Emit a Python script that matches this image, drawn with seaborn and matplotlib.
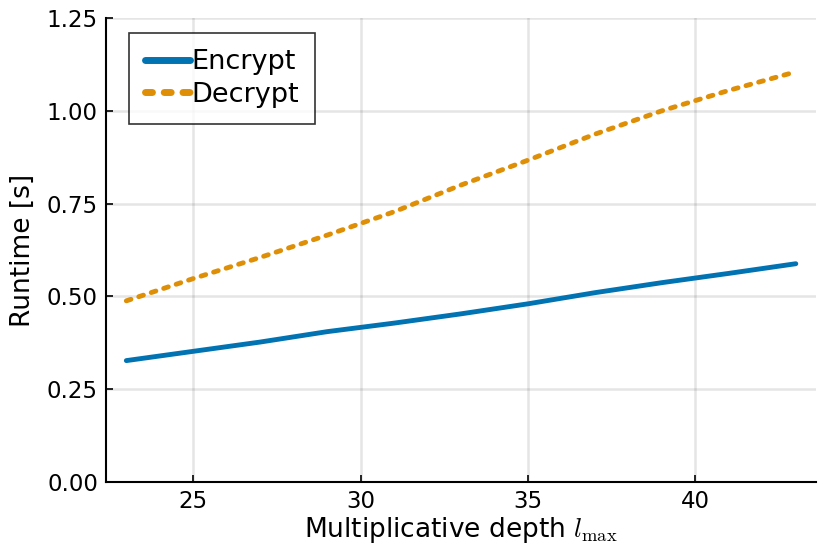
import numpy as np
import pandas as pd
import matplotlib
matplotlib.use("Agg")
import matplotlib.pyplot as plt
import seaborn as sns

# values
depth = [23, 25, 27, 29, 31, 33, 35, 37, 39, 41, 43]
encrypt = [0.327, 0.352, 0.377, 0.405, 0.428, 0.453, 0.480, 0.510, 0.537, 0.562, 0.588]
decrypt = [0.488, 0.548, 0.605, 0.665, 0.728, 0.800, 0.867, 0.937, 1.000, 1.055, 1.105]
series = ["Encrypt", "Decrypt"]
yticks = [0.0, 0.25, 0.5, 0.75, 1.0, 1.25]
xticks = [25, 30, 35, 40]

df = pd.DataFrame({
    "depth": depth * 2,
    "runtime": encrypt + decrypt,
    "op": [series[0]] * len(depth) + [series[1]] * len(depth),
})

sns.set_style("ticks")
plt.rcParams["font.family"] = ["DejaVu Sans"]
plt.rcParams["mathtext.fontset"] = "cm"
# plain black text like the original
for key in ["text.color", "axes.labelcolor", "xtick.color", "ytick.color"]:
    plt.rcParams[key] = "black"

fig = plt.figure(figsize=(8.3, 5.54), dpi=100)
ax = fig.add_axes([0.128, 0.130, 0.855, 0.8375])

palette = {"Encrypt": "#0173b2", "Decrypt": "#de8f05"}
sns.lineplot(data=df, x="depth", y="runtime", hue="op", style="op",
             palette=palette, dashes={"Encrypt": "", "Decrypt": (1.0, 1.7)},
             linewidth=3.5, ax=ax, legend=True)
for ln in ax.get_lines():
    ln.set_dash_capstyle("round")
    ln.set_solid_capstyle("round")

ax.set_xlim(22.4, 43.6)
ax.set_ylim(0, 1.25)
ax.set_xticks(xticks)
ax.set_yticks(yticks)
ax.set_yticklabels(["{:.2f}".format(v) for v in yticks])
ax.grid(True, color="black", alpha=0.1, linewidth=1.8)
ax.tick_params(direction="in", length=5, width=1.2, labelsize=16.5, pad=6)
for s in ["top", "right"]:
    ax.spines[s].set_visible(False)
for s in ["left", "bottom"]:
    ax.spines[s].set_linewidth(1.5)
    ax.spines[s].set_color("black")

ax.set_xlabel(r"Multiplicative depth $l_{\max}$", fontsize=19, labelpad=1)
ax.set_ylabel("Runtime [s]", fontsize=19, labelpad=8)

leg = ax.legend(loc="upper left", fontsize=19.5, frameon=True, fancybox=False,
                handlelength=1.65, handletextpad=0.05, borderpad=0.6,
                labelspacing=0.25, borderaxespad=0,
                bbox_to_anchor=(0.032, 0.968))
leg.get_frame().set_edgecolor("black")
leg.get_frame().set_linewidth(1.2)
for h in leg.get_lines():
    h.set_linewidth(5)
    h.set_dash_capstyle("round")
    h.set_solid_capstyle("round")

fig.savefig("out.png", dpi=100)
